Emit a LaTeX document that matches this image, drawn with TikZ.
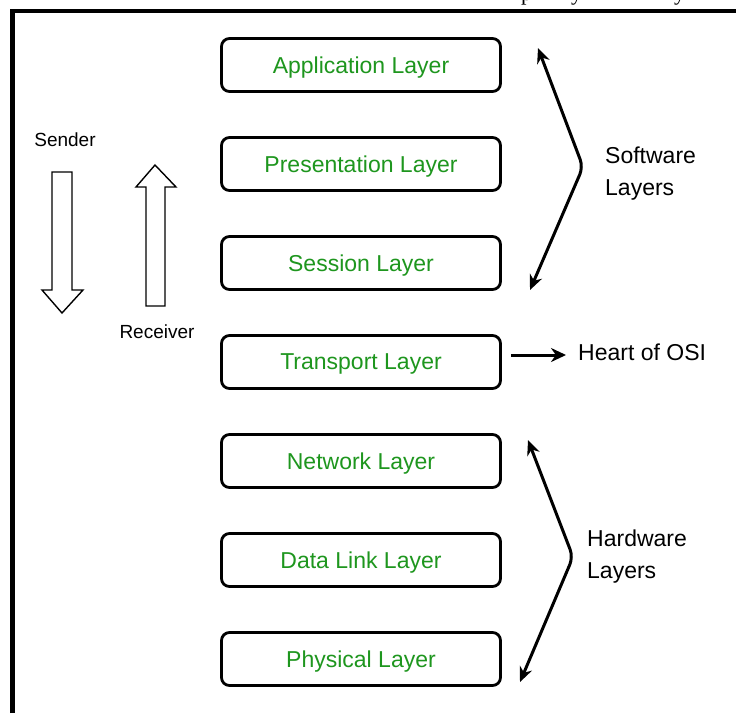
\documentclass[tikz,border=0pt]{standalone}
\usepackage{fontspec}
\setmainfont{Liberation Sans}
\newfontfamily\fragserif{Liberation Serif}
\usetikzlibrary{arrows.meta}
\definecolor{layergreen}{RGB}{30,150,30}
\begin{document}
\begin{tikzpicture}[x=1pt,y=-1pt,
  layer/.style={draw, line width=2.8pt, rounded corners=8pt, minimum width=279pt, minimum height=53pt, inner sep=0pt, text=layergreen, font=\fontsize{23}{27}\selectfont, text depth=0pt},
  lbl/.style={font=\fontsize{19}{22}\selectfont, inner sep=0pt},
  side/.style={font=\fontsize{23}{32}\selectfont, align=left, inner sep=0pt, anchor=west},
  frag/.style={font=\fragserif\fontsize{22}{22}\selectfont, anchor=base west, inner sep=0pt},
  bracearrow/.style={line width=3pt, rounded corners=8pt, {Stealth[length=15pt,width=13pt]}-{Stealth[length=15pt,width=13pt]}},
  blockarrow/.style={draw, line width=1.4pt, fill=white, line join=miter}]
\useasboundingbox (0,0) rectangle (736,713);
\fill[white] (0,0) rectangle (736,713);
% cut-off caption fragments at the top edge (as in the reference)
\node[frag] (frag1) at (521,0) {p};
\node[frag] (frag2) at (571,0) {y};
\node[frag] (frag3) at (674,0) {y};
% frame
\draw[line width=4.5pt] (12.5,713) -- (12.5,11) -- (736,11);
% layers
\node[layer] (app)   at (361,65)  {Application Layer};
\node[layer] (pres)  at (361,164) {Presentation Layer};
\node[layer] (sess)  at (361,263) {Session Layer};
\node[layer] (trans) at (361,362) {Transport Layer};
\node[layer] (net)   at (361,461) {Network Layer};
\node[layer] (dl)    at (361,560) {Data Link Layer};
\node[layer] (phy)   at (361,659) {Physical Layer};
% sender / receiver
\node[lbl] (sender) at (65,140) {Sender};
\node[lbl] (receiver) at (157,332) {Receiver};
\draw[blockarrow] (52,172) -- (72,172) -- (72,290) -- (83,290) -- (62,313) -- (42,290) -- (52,290) -- cycle;
\draw[blockarrow] (146,306) -- (165,306) -- (165,187) -- (176,187) -- (155,165) -- (136,187) -- (146,187) -- cycle;
% side labels
\node[side] (soft) at (605,174) {Software\\Layers};
\node[side] (hard) at (587,557) {Hardware\\Layers};
\node[side] (heart) at (578,352) {Heart of OSI};
% brace arrows
\coordinate (swtop) at (538,48);
\coordinate (swmid) at (583,167);
\coordinate (swbot) at (530,290);
\draw[bracearrow] (swtop) -- (swmid) -- (swbot);
\coordinate (hwtop) at (528,440);
\coordinate (hwmid) at (573,557);
\coordinate (hwbot) at (520,682);
\draw[bracearrow] (hwtop) -- (hwmid) -- (hwbot);
% heart arrow
\draw[line width=3pt, -{Stealth[length=15pt,width=14pt]}] ([xshift=9pt,yshift=7pt]trans.east) -- ([xshift=-12pt,yshift=-3pt]heart.west);
\end{tikzpicture}
\end{document}
